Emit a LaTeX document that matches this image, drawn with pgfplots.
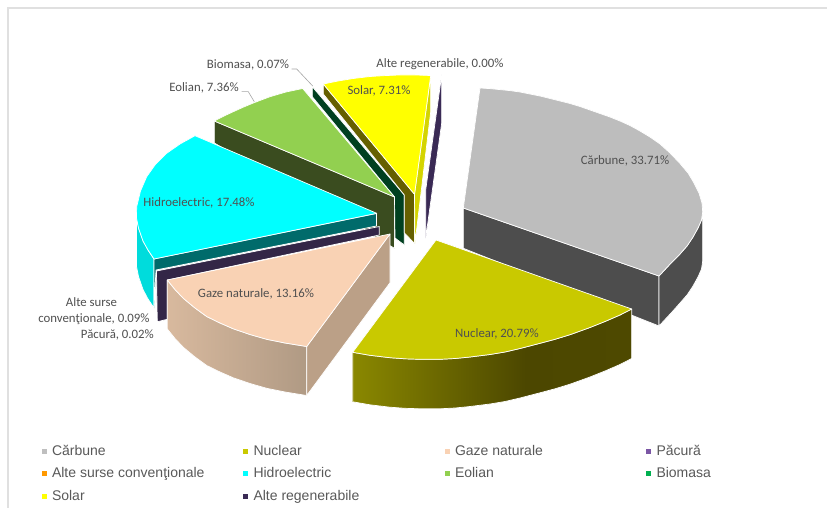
\documentclass[border=0pt]{standalone}
\usepackage{pgfplots}
\pgfplotsset{compat=1.18}
\usepackage{fontspec}
\setmainfont{Liberation Sans}
\newfontfamily\calfont{Carlito}
\definecolor{txt}{HTML}{505050}
\definecolor{legtxt}{HTML}{595959}
\definecolor{nuca}{HTML}{8A8800}
\definecolor{nucb}{HTML}{4C4700}
\definecolor{nucc}{HTML}{4E4900}
\definecolor{gaza}{HTML}{D8B99E}
\definecolor{gazb}{HTML}{B09A84}
\definecolor{HTMLregen}{HTML}{3A2A55}
\definecolor{pac}{HTML}{332647}
\definecolor{eolw}{HTML}{3A4C1F}
\definecolor{eol}{HTML}{92D050}
\definecolor{biow}{HTML}{004020}
\definecolor{solw}{HTML}{666000}
\definecolor{solr}{HTML}{D4D400}
\definecolor{sol}{HTML}{FFFF00}
\definecolor{hid}{HTML}{00FFFF}
\definecolor{hids}{HTML}{00DCDC}
\definecolor{hidw}{HTML}{006B6B}
\definecolor{gaz}{HTML}{F9D2B4}
\definecolor{gazr}{HTML}{BBA087}
\definecolor{car}{HTML}{BDBDBD}
\definecolor{carw}{HTML}{4D4D4D}
\definecolor{nuc}{HTML}{C9C900}
\definecolor{lg1}{HTML}{BFBFBF}
\definecolor{lg4}{HTML}{7B56A5}
\definecolor{lg5}{HTML}{FF9900}
\definecolor{lg8}{HTML}{00B050}
\pgfdeclarehorizontalshading{nucside}{100bp}{color(0bp)=(nuca); color(25bp)=(nuca); color(56bp)=(nucb); color(75bp)=(nucc); color(100bp)=(nucc)}
\pgfdeclarehorizontalshading{gazside}{100bp}{color(0bp)=(gaza); color(25bp)=(gaza); color(75bp)=(gazb); color(100bp)=(gazb)}
\tikzset{wl/.style={font=\calfont\fontsize{12.8}{14}\selectfont,text=txt,inner sep=0pt}}
\begin{document}
\begin{tikzpicture}
\begin{axis}[
  scale only axis, width=827pt, height=508pt,
  xmin=0, xmax=827, ymin=0, ymax=508, y dir=reverse,
  hide axis,
  legend columns=4,
  legend cell align=left,
  legend style={draw=none, fill=none, at={(axis cs:42,443)}, anchor=north west, inner sep=0pt, outer sep=0pt,
    font=\fontsize{14}{15}\selectfont\color{legtxt},
    /tikz/row sep=7pt, /tikz/every odd column/.append style={column sep=4pt}},
]
% background and frame
\addplot[fill=white, draw=none, forget plot] coordinates {(0,0) (827,0) (827,508) (0,508)} --cycle;
\addplot[draw=black!12, line width=1.2pt, forget plot] coordinates {(8,508) (8,8) (827,8)};

\pgfplotsset{sl/.style={draw=white, line width=0.7pt, line join=round, forget plot}}
% Alte regenerabile
\addplot[sl, fill=HTMLregen] coordinates {(441.7,75) (441.7,123) (425.7,238) (425.7,190)} --cycle;
% Eolian wall
\addplot[sl, fill=eolw] coordinates {(214.3,121) (394.5,197) (394.5,248.3) (214.3,143)} --cycle;
% Biomasa wall
\addplot[sl, fill=biow] coordinates {(312.3,86.7) (404.3,195) (404.3,245) (395,238) (394.5,197) (312.3,96.7)} --cycle;
% Solar
\addplot[sl, fill=solw] coordinates {(323.3,84) (414.5,194.3) (414.5,243.3) (404.3,233) (404.3,195) (323.3,94)} --cycle;
\addplot[sl, fill=solr] coordinates {(430.7,76) (430.7,111.7) (415,243.3) (414.5,194.3)} --cycle;
\addplot[sl, fill=sol] coordinates {(323.3,84) (338,81) (353.3,78.5) (370,76.5) (386.7,75.5) (400,75) (415,75) (430.7,75.5) (414.5,194.3)} --cycle;
% Eolian top
\addplot[sl, fill=eol] coordinates {(214.3,121) (224,116) (233.3,111.7) (243,107.3) (253.3,103) (262,99.7) (270,96.7) (286,92) (302.7,88.5) (394.5,197)} --cycle;
% Hidroelectric
\addplot[sl, fill=hids] coordinates {(136.5,206.7) (136.5,266.5) (138.5,276.5) (143,289.5) (148,299) (154,308) (154,259) (148,250) (143,241) (138.5,228) (136.5,218)} --cycle;
\addplot[sl, fill=hidw] coordinates {(154,259) (376.5,213.5) (376.5,226) (156,270) (154,308)} --cycle;
\addplot[sl, fill=hid] coordinates {(195,135.7) (180,144) (166.7,153.3) (155,165) (146.7,176.7) (140.5,191) (136.7,206.7) (136.5,218) (138.5,228) (143,241) (148,250) (154,259) (376.7,213.3)} --cycle;
% Pacura / alte surse
\addplot[sl, fill=pac] coordinates {(156.5,271) (379.3,226.5) (379.3,235) (167.3,280) (167.3,319.3) (157.3,321.7)} --cycle;
% Gaze naturale
\addplot[draw=white, line width=0.7pt, line join=round, forget plot, shading=gazside] coordinates {(167.3,280) (167.3,329) (175,338.5) (183.3,347.3) (195,357) (206.7,365.5) (220,372) (233.3,377.8) (250,383.5) (266.7,388.3) (285,392) (306.7,395.5) (306.7,346.5) (285,343) (266.7,339.3) (250,334.5) (233.3,328.8) (220,323) (206.7,316.5) (195,308) (183.3,298.3) (175,289.5)} --cycle;
\addplot[sl, fill=gazr] coordinates {(306.7,346.5) (390,234) (390,282.7) (306.7,395.5)} --cycle;
\addplot[sl, fill=gaz] coordinates {(390,234) (167.3,280) (175,289.5) (183.3,298.3) (195,308) (206.7,316.5) (220,323) (233.3,328.8) (250,334.5) (266.7,339.3) (285,343) (306.7,346.5)} --cycle;
% Carbune
\addplot[sl, fill=carw] coordinates {(463.3,208) (463.3,248.3) (659,326) (659,276)} --cycle;
\addplot[sl, fill=carw] coordinates {(659,276) (659,326) (672,312) (680,303) (687,295) (693,286) (698,277) (701.5,269) (702.7,261) (702.7,212) (701.5,220) (698,228) (693,237) (687,246) (680,254) (672,262)} --cycle;
\addplot[sl, fill=car] coordinates {(480,88) (490,88.6) (500,89.6) (510,90.6) (520,92) (530,94) (540,96) (550,98.5) (560,101) (570,103.5) (580,106.5) (590,110) (600,113.5) (610,117) (620,121) (630,125.5) (640,131) (650,137) (660,144) (670,153) (680,163.5) (688,173) (694,183) (699,193) (702,203) (702.7,212) (701.5,220) (698,228) (693,237) (687,246) (680,254) (672,262) (659,276) (463.3,208)} --cycle;
% Nuclear
\addplot[draw=white, line width=0.7pt, line join=round, forget plot, shading=nucside] coordinates {(352.7,352.3) (352.7,401.8) (370,404.8) (390,407.2) (405,408.3) (420,408.8) (440,408.8) (455,408) (470,406.5) (490,404) (505,401.5) (520,398) (540,392.8) (555,388.8) (570,384.2) (590,377) (605,371) (620,364.5) (631.7,358.5) (631.7,309) (620,315) (605,321.5) (590,327.5) (570,334.7) (555,339.3) (540,343.3) (520,348.5) (505,352) (490,354.5) (470,357) (455,358.5) (440,359.3) (420,359.3) (405,358.8) (390,357.7) (370,355.3)} --cycle;
\addplot[sl, fill=nuc] coordinates {(436,240) (631.7,309) (620,315) (605,321.5) (590,327.5) (570,334.7) (555,339.3) (540,343.3) (520,348.5) (505,352) (490,354.5) (470,357) (455,358.5) (440,359.3) (420,359.3) (405,358.8) (390,357.7) (370,355.3) (352.7,352.3)} --cycle;
% leader lines
\addplot[draw=black!35, line width=0.6pt, forget plot] coordinates {(291.7,69) (296.7,69) (312.7,86)};
\addplot[draw=black!35, line width=0.6pt, forget plot] coordinates {(241.7,91.7) (248.3,91.7) (254.3,101.7)};
% labels
\node[wl] at (axis cs:625,161) {Cărbune, 33.71\%};
\node[wl] at (axis cs:497,334) {Nuclear, 20.79\%};
\node[wl] at (axis cs:256,294) {Gaze naturale, 13.16\%};
\node[wl] at (axis cs:199,203) {Hidroelectric, 17.48\%};
\node[wl] at (axis cs:204,88) {Eolian, 7.36\%};
\node[wl] at (axis cs:248,65) {Biomasa, 0.07\%};
\node[wl] at (axis cs:379,91) {Solar, 7.31\%};
\node[wl] at (axis cs:440,64) {Alte regenerabile, 0.00\%};
\node[wl] at (axis cs:91.5,302) {Alte surse};
\node[wl] at (axis cs:94,319) {convenţionale, 0.09\%};
\node[wl,anchor=east] at (axis cs:154,335) {Păcură, 0.02\%};
% legend
\pgfplotsset{lk/.style={only marks, mark=square*, mark size=2pt, mark options={draw=none}}}
\addlegendimage{lk, color=lg1}\addlegendentry{\makebox[189.5pt][l]{Cărbune}}
\addlegendimage{lk, color=nuc}\addlegendentry{\makebox[189.5pt][l]{Nuclear}}
\addlegendimage{lk, color=gaz}\addlegendentry{\makebox[189.5pt][l]{Gaze naturale}}
\addlegendimage{lk, color=lg4}\addlegendentry{\makebox[100pt][l]{Păcură}}
\addlegendimage{lk, color=lg5}\addlegendentry{Alte surse convenţionale}
\addlegendimage{lk, color=hid}\addlegendentry{Hidroelectric}
\addlegendimage{lk, color=eol}\addlegendentry{Eolian}
\addlegendimage{lk, color=lg8}\addlegendentry{Biomasa}
\addlegendimage{lk, color=sol}\addlegendentry{Solar}
\addlegendimage{lk, color=HTMLregen}\addlegendentry{Alte regenerabile}
\end{axis}
\end{tikzpicture}
\end{document}
